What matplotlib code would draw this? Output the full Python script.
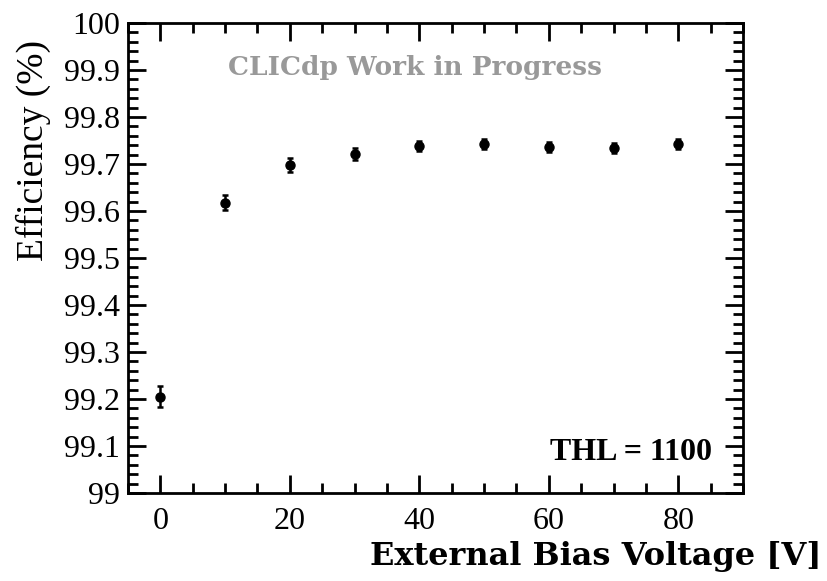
import matplotlib
matplotlib.use('Agg')
import matplotlib.pyplot as plt
from matplotlib.ticker import MultipleLocator

# bias voltage [V] and efficiency [%]
voltage = [0, 10, 20, 30, 40, 50, 60, 70, 80]
efficiency = [99.205, 99.618, 99.698, 99.721, 99.739, 99.742, 99.736, 99.734, 99.742]
err = [0.022, 0.016, 0.015, 0.012, 0.011, 0.011, 0.011, 0.011, 0.011]

fig = plt.figure(figsize=(8.28, 5.81), dpi=100)
ax = fig.add_axes([128/828, 88/581, 615/828, 470/581])

ax.errorbar(voltage, efficiency, yerr=err, fmt='o', color='black',
            markersize=6.5, elinewidth=1.8, capsize=2.5, capthick=1.8)

ax.set_xlim(-5, 90)
ax.set_ylim(99, 100)
ax.xaxis.set_major_locator(MultipleLocator(20))
ax.xaxis.set_minor_locator(MultipleLocator(5))
ax.yaxis.set_minor_locator(MultipleLocator(0.02))
ax.set_yticks([99 + i/10 for i in range(11)])
ax.set_yticklabels(['99', '99.1', '99.2', '99.3', '99.4', '99.5', '99.6',
                    '99.7', '99.8', '99.9', '100'])

ax.tick_params(which='both', direction='in', top=True, right=True, width=2)
ax.tick_params(which='major', length=13, pad=6)
ax.tick_params(axis='x', which='major', pad=10)
ax.tick_params(which='minor', length=7)
for lab in ax.get_xticklabels() + ax.get_yticklabels():
    lab.set_fontfamily('Liberation Serif')
    lab.set_fontsize(23)
for s in ax.spines.values():
    s.set_linewidth(2)

fig.text(33/828, 1 - 150/581, 'Efficiency (%)', rotation=90, ha='center', va='center',
         fontfamily='Liberation Serif', fontsize=27)
fig.text(822/828, 1 - 557/581, 'External Bias Voltage [V]', ha='right', va='center',
         fontfamily='DejaVu Serif', fontweight='bold', fontsize=23)
fig.text(415/828, 1 - 67/581, 'CLICdp Work in Progress', ha='center', va='center',
         fontfamily='DejaVu Serif', fontweight='bold', fontsize=19, color='#999999')
fig.text(712/828, 1 - 452/581, 'THL = 1100', ha='right', va='center',
         fontfamily='Liberation Serif', fontweight='bold', fontsize=23)

fig.savefig('out.png', dpi=100)
